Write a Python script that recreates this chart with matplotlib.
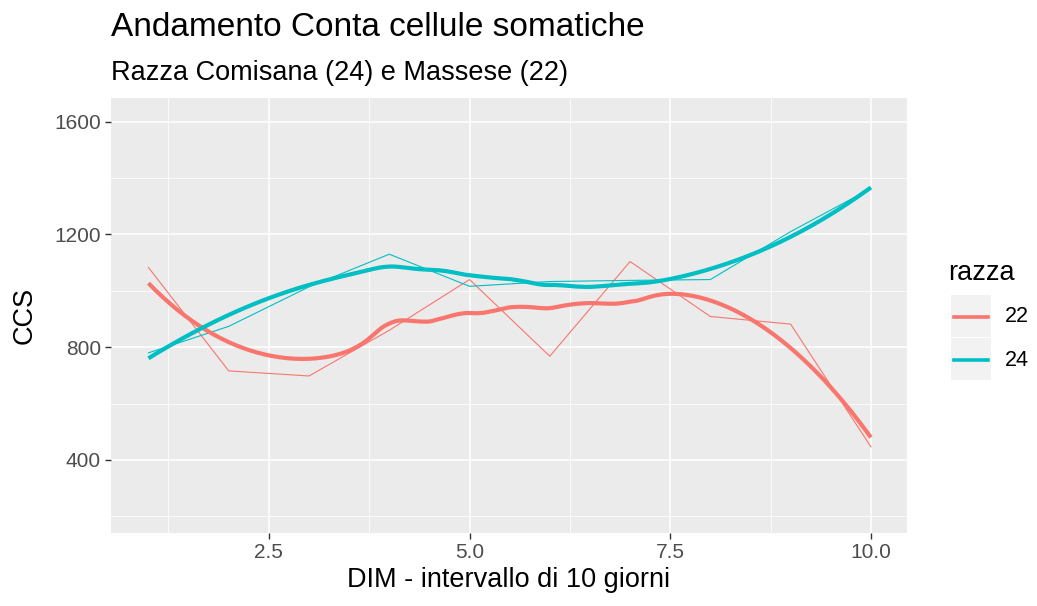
import numpy as np
import matplotlib
matplotlib.use("Agg")
import matplotlib.pyplot as plt
from matplotlib.lines import Line2D
from matplotlib.patches import Rectangle

plt.rcParams['font.family'] = ['Liberation Sans', 'DejaVu Sans']

# data
dim = [1, 2, 3, 4, 5, 6, 7, 8, 9, 10]
ccs_22 = [1083, 716, 698, 860, 1040, 768, 1104, 909, 882, 447]
ccs_24 = [780, 874, 1014, 1130, 1016, 1033, 1037, 1040, 1210, 1363]
razze = ['22', '24']
colori = ['#F8766D', '#00BFC4']


def loess(x, y, xs, span=0.75):
    # local quadratic fit with tricube weights, like R's loess defaults
    x = np.asarray(x, float)
    y = np.asarray(y, float)
    q = int(np.floor(len(x) * span))
    out = []
    for x0 in xs:
        d = np.abs(x - x0)
        h = np.sort(d)[q - 1] * 1.0000001
        w = np.clip(1 - (d / h) ** 3, 0, None) ** 3
        X = np.column_stack([np.ones_like(x), x - x0, (x - x0) ** 2])
        sw = np.sqrt(w)
        beta = np.linalg.lstsq(X * sw[:, None], y * sw, rcond=None)[0]
        out.append(beta[0])
    return np.array(out)


fig = plt.figure(figsize=(10.37, 6.06), dpi=100)
ax = fig.add_axes([110.7 / 1037, 1 - 533 / 606, (907 - 110.7) / 1037, (533 - 98) / 606])
ax.set_facecolor('#EBEBEB')
for s in ax.spines.values():
    s.set_visible(False)

ax.set_xlim(0.53, 10.45)
ax.set_ylim(141, 1684)
ax.set_xticks([2.5, 5.0, 7.5, 10.0])
ax.set_xticklabels(['2.5', '5.0', '7.5', '10.0'])
ax.set_yticks([400, 800, 1200, 1600])
ax.set_xticks([1.25, 3.75, 6.25, 8.75], minor=True)
ax.set_yticks([200, 600, 1000, 1400], minor=True)
ax.grid(which='major', color='white', linewidth=1.1)
ax.grid(which='minor', color='white', linewidth=0.55)
ax.set_axisbelow(True)
ax.tick_params(which='major', length=4, width=1, color='#333333',
               labelsize=15, labelcolor='#4D4D4D', pad=3)
ax.tick_params(which='minor', length=0)

xs = np.linspace(1, 10, 200)
serie = [ccs_22, ccs_24]
for vals, c in zip(serie, colori):
    ax.plot(dim, vals, color=c, linewidth=0.8, zorder=3)
for vals, c in zip(serie, colori):
    ax.plot(xs, loess(dim, vals, xs), color=c, linewidth=3.0, zorder=4,
            solid_capstyle='butt')

ax.set_xlabel('DIM - intervallo di 10 giorni', fontsize=19.5, labelpad=4)
ax.set_ylabel('CCS', fontsize=19.5, labelpad=12)

fig.text(110.7 / 1037, 1 - 28 / 606, 'Andamento Conta cellule somatiche',
         fontsize=24, va='center', ha='left')
fig.text(110.7 / 1037, 1 - 73 / 606, 'Razza Comisana (24) e Massese (22)',
         fontsize=19.5, va='center', ha='left')

# legend drawn by hand in figure pixels
fig.text(948 / 1037, 1 - 273 / 606, 'razza', fontsize=19.5, va='center', ha='left')
for i, (r, c) in enumerate(zip(razze, colori)):
    top = 295 + i * 43
    fig.patches.append(Rectangle((951 / 1037, 1 - (top + 42) / 606), 40 / 1037, 42 / 606,
                                 transform=fig.transFigure, facecolor='#F2F2F2',
                                 edgecolor='none'))
    cy = 1 - (top + 22) / 606
    fig.lines.append(Line2D([954 / 1037, 988 / 1037], [cy, cy], transform=fig.transFigure,
                            color=c, linewidth=2.6))
    fig.text(1005 / 1037, cy, r, fontsize=15.5, va='center', ha='left')

fig.savefig('out.png', dpi=100)
